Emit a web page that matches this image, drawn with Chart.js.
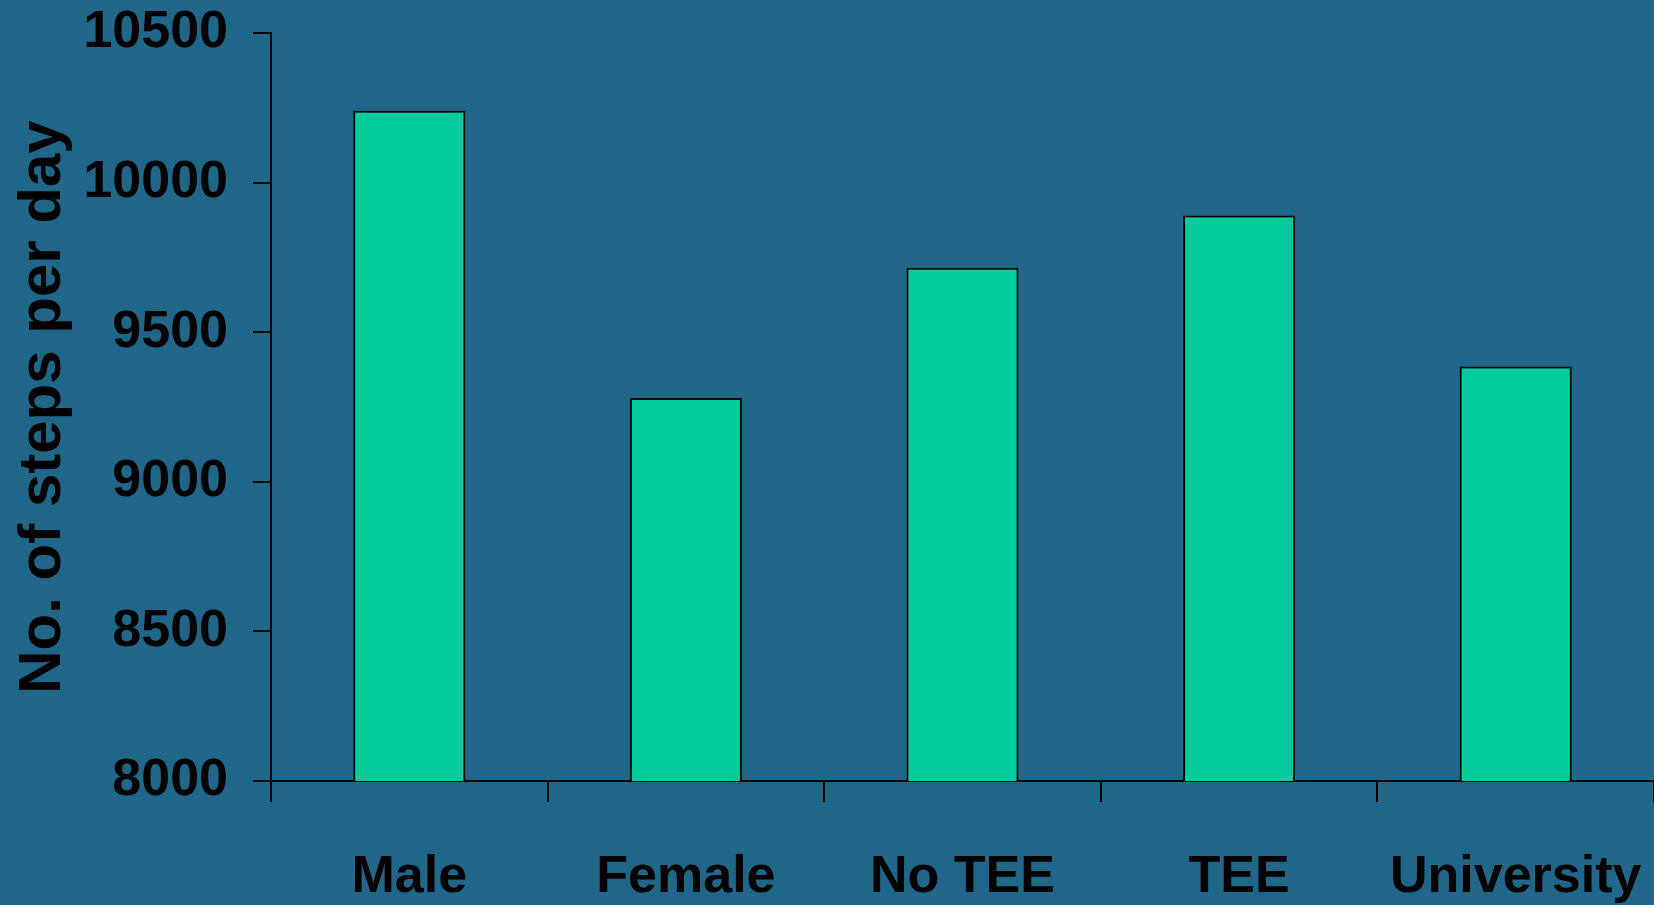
<!DOCTYPE html>
<html lang="en">
<head>
    <meta charset="UTF-8">
    <script src="https://cdn.jsdelivr.net/npm/chart.js@4"></script>
    <title>Steps per day</title>
    <style>
        body { margin: 0; background: #216789; }
        canvas { display: block; }
    </style>
</head>
<body>

    <canvas id="myChart" width="1654" height="905"></canvas>

    <script>
        // values
        const groups = ['Male', 'Female', 'No TEE', 'TEE', 'University'];
        const stepsPerDay = [10240, 9280, 9715, 9890, 9385];
        const yMin = 8000;
        const yMax = 10500;
        const yStep = 500;

        const boldFamily = "'Liberation Sans', Arial, sans-serif";

        let ctx = document.getElementById('myChart').getContext('2d');

        new Chart(ctx, {
            type: 'bar',
            data: {
                labels: groups,
                datasets: [{
                    label: 'No. of steps per day',
                    data: stepsPerDay,
                    backgroundColor: '#00CC99',
                    borderColor: '#000',
                    borderWidth: 2,
                    borderSkipped: false,
                    categoryPercentage: 1,
                    barPercentage: 0.405
                }]
            },
            options: {
                responsive: false,
                animation: false,
                layout: {
                    padding: { left: 0, right: 0, top: 33, bottom: 0 }
                },
                plugins: {
                    legend: { display: false },
                    tooltip: { enabled: false }
                },
                scales: {
                    x: {
                        offset: true,
                        afterFit: scale => { scale.height = 124; },
                        grid: {
                            offset: true,
                            drawOnChartArea: false,
                            tickLength: 21,
                            color: '#000',
                            lineWidth: 2
                        },
                        border: { display: true, color: '#000', width: 2 },
                        ticks: {
                            color: '#000',
                            // tall line box pushes the labels down like the original
                            font: { family: boldFamily, size: 52, weight: 'bold', lineHeight: 2.9 },
                            padding: 0,
                            maxRotation: 0,
                            autoSkip: false
                        }
                    },
                    y: {
                        min: yMin,
                        max: yMax,
                        afterFit: scale => { scale.width = 271; },
                        grid: {
                            drawOnChartArea: false,
                            tickLength: 18,
                            color: '#000',
                            lineWidth: 2
                        },
                        border: { display: true, color: '#000', width: 2 },
                        ticks: {
                            stepSize: yStep,
                            color: '#000',
                            font: { family: boldFamily, size: 52, weight: 'bold', lineHeight: 0.3 },
                            padding: 25,
                            callback: v => String(v)
                        },
                        title: {
                            display: true,
                            text: 'No. of steps per day',
                            color: '#000',
                            font: { family: boldFamily, size: 60, weight: 'bold', lineHeight: 1.2 },
                            padding: { top: 7, bottom: 9 }
                        }
                    }
                }
            }
        });
    </script>

</body>
</html>
